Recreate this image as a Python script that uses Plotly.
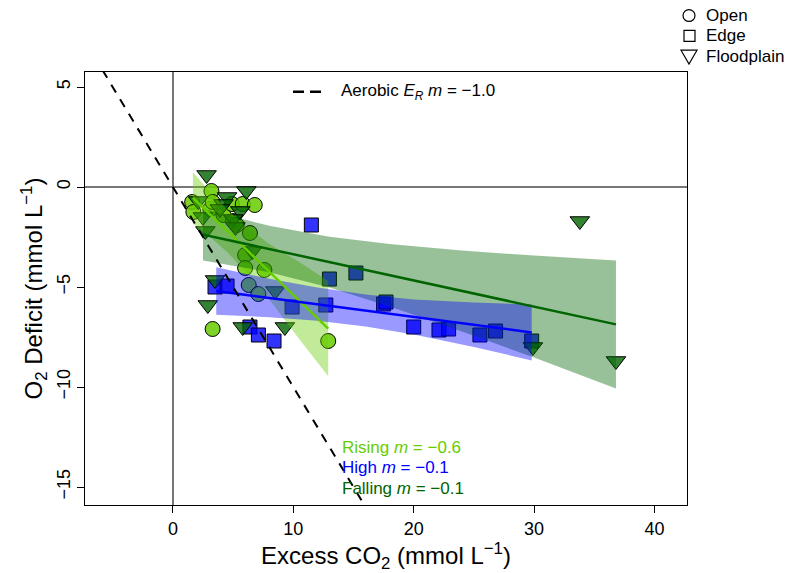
import plotly.graph_objects as go

# ---------------- data ----------------
open_x = [1.6, 1.7, 3.1, 3.2, 3.3, 4.2, 4.9, 5.8, 5.0, 5.3, 6.4, 6.8, 6.0, 6.0, 7.6, 6.3, 7.1, 3.3, 12.9]
open_y = [-0.75, -1.25, -1.1, -0.2, -0.75, -1.4, -0.85, -0.85, -1.7, -1.9, -2.3, -0.9, -3.4, -4.05, -4.15, -4.9, -5.35, -7.1, -7.7]

edge_x = [3.5, 4.5, 6.4, 7.1, 8.4, 9.9, 11.5, 12.7, 13.0, 15.2, 17.5, 17.7, 20.0, 22.1, 22.9, 25.5, 26.8, 29.8]
edge_y = [-5.0, -4.95, -7.0, -7.4, -7.7, -6.0, -1.9, -5.9, -4.6, -4.3, -5.85, -5.75, -7.0, -7.15, -7.1, -7.4, -7.2, -7.7]

flood_x = [2.8, 6.1, 4.5, 2.1, 4.2, 3.9, 5.6, 2.5, 5.0, 2.7, 5.2, 6.6, 3.5, 2.9, 5.8, 9.3, 8.5, 33.8, 29.9, 36.8]
flood_y = [0.6, -0.2, -0.5, -0.7, -0.85, -1.1, -1.2, -1.5, -1.6, -2.2, -2.0, -3.2, -4.65, -5.9, -7.0, -7.0, -5.2, -1.7, -8.0, -8.7]

# fitted lines and confidence bands
rise_x = [1.66, 3.0, 4.5, 6.0, 8.0, 10.5, 12.9]
rise_fit = [-0.54, -1.32, -2.19, -3.07, -4.23, -5.68, -7.08]
rise_up = [0.74, -0.19, -1.13, -1.94, -2.85, -3.75, -4.70]
rise_lo = [-1.82, -2.45, -3.25, -4.20, -5.61, -7.61, -9.46]

high_x = [3.6, 8.0, 12.0, 16.0, 20.0, 25.0, 29.8]
high_fit = [-5.20, -5.55, -5.86, -6.18, -6.50, -6.89, -7.27]
high_up = [-4.01, -4.59, -5.03, -5.38, -5.62, -5.78, -5.87]
high_lo = [-6.39, -6.51, -6.69, -6.98, -7.38, -8.00, -8.67]

fall_x = [2.5, 8.0, 13.0, 18.0, 24.0, 30.0, 36.8]
fall_fit = [-2.38, -3.10, -3.76, -4.41, -5.20, -5.98, -6.87]
fall_up = [-1.09, -1.94, -2.49, -2.85, -3.18, -3.43, -3.67]
fall_lo = [-3.67, -4.26, -5.03, -5.97, -7.22, -8.53, -10.07]

aerobic_slope = -1.0
aerobic_label = "Aerobic <i>E<sub>R</sub></i> <i>m</i> = \u22121.0"
slope_labels = ["Rising <i>m</i> = \u22120.6", "High <i>m</i> = \u22120.1", "Falling <i>m</i> = \u22120.1"]
site_labels = ["Open", "Edge", "Floodplain"]

x_range = [-7.3, 42.7]
y_range = [-15.9, 5.75]
x_ticks = [0, 10, 20, 30, 40]
y_ticks = [-15, -10, -5, 0, 5]

# ---------------- styles / layout ----------------
C_RISE = "#66CD00"
C_HIGH = "#0000FF"
C_FALL = "#006400"
FONT = "Liberation Sans, Arial, Helvetica, sans-serif"
W, H = 790, 573
ML, MR, MT, MB = 85, 103, 72, 64
PW, PH = W - ML - MR, H - MT - MB


def px(xp):
    return (xp - ML) / PW


def py(yp):
    return (H - MB - yp) / PH


fig = go.Figure()

# points
fig.add_trace(go.Scatter(x=open_x, y=open_y, mode="markers", showlegend=False,
                         marker=dict(symbol="circle", size=15, color="rgba(102,205,0,0.85)",
                                     line=dict(color="black", width=1))))
fig.add_trace(go.Scatter(x=edge_x, y=edge_y, mode="markers", showlegend=False,
                         marker=dict(symbol="square", size=14, color="rgba(0,0,255,0.8)",
                                     line=dict(color="black", width=1))))
fig.add_trace(go.Scatter(x=flood_x, y=flood_y, mode="markers", showlegend=False,
                         marker=dict(symbol="triangle-down", size=17, color="rgba(0,100,0,0.8)",
                                     line=dict(color="black", width=1))))


def ribbon(xs, up, lo, rgba):
    fig.add_trace(go.Scatter(x=list(xs) + list(xs)[::-1], y=list(up) + list(lo)[::-1],
                             fill="toself", fillcolor=rgba, mode="lines",
                             line=dict(width=0), showlegend=False, hoverinfo="skip"))


ribbon(rise_x, rise_up, rise_lo, "rgba(102,205,0,0.4)")
ribbon(fall_x, fall_up, fall_lo, "rgba(0,100,0,0.4)")
ribbon(high_x, high_up, high_lo, "rgba(0,0,255,0.4)")

for xs, ys, c in [(rise_x, rise_fit, C_RISE), (high_x, high_fit, C_HIGH), (fall_x, fall_fit, C_FALL)]:
    fig.add_trace(go.Scatter(x=[xs[0], xs[-1]], y=[ys[0], ys[-1]], mode="lines",
                             line=dict(color=c, width=2.5), showlegend=False))

# aerobic 1:1 line
ax = [x_range[0], y_range[0] / aerobic_slope]
fig.add_trace(go.Scatter(x=ax, y=[aerobic_slope * v for v in ax], mode="lines",
                         line=dict(color="black", width=2, dash="9px,8px"), showlegend=False))

# in-plot key for the aerobic line (drawn manually)
fig.add_shape(type="line", xref="paper", yref="paper", x0=px(293), x1=px(322),
              y0=py(92), y1=py(92), line=dict(color="black", width=2.5, dash="11px,6px"))
fig.add_annotation(xref="paper", yref="paper", x=px(339), y=py(92), text=aerobic_label,
                   showarrow=False, xanchor="left", yanchor="middle",
                   font=dict(size=17, family=FONT, color="black"))

# site key (outside top-right, drawn manually so it does not squeeze the plot)
fig.add_shape(type="circle", xref="paper", yref="paper", x0=px(683), x1=px(695),
              y0=py(21), y1=py(9), line=dict(color="black", width=1.2))
fig.add_shape(type="rect", xref="paper", yref="paper", x0=px(684), x1=px(695),
              y0=py(41), y1=py(30), line=dict(color="black", width=1.2))
fig.add_shape(type="path", xref="paper", yref="paper",
              path=f"M {px(681)} {py(50)} L {px(697)} {py(50)} L {px(689)} {py(64)} Z",
              line=dict(color="black", width=1.2))
for i, lab in enumerate(site_labels):
    fig.add_annotation(xref="paper", yref="paper", x=px(704), y=py(15 + 20.5 * i), text=lab,
                       showarrow=False, xanchor="left", yanchor="middle",
                       font=dict(size=17, family=FONT, color="black"))

# slope annotations
for i, (txt, c) in enumerate(zip(slope_labels, [C_RISE, C_HIGH, C_FALL])):
    fig.add_annotation(x=13.85, y=-13.0 - 1.04 * i, text=txt, showarrow=False,
                       xanchor="left", yanchor="middle",
                       font=dict(color=c, size=17, family=FONT))

axis_common = dict(showline=True, linecolor="black", linewidth=1, mirror=True,
                   ticks="outside", ticklen=7, tickcolor="black", showgrid=False,
                   zeroline=True, zerolinecolor="#777777", zerolinewidth=2,
                   tickfont=dict(size=18, color="black", family=FONT))

fig.update_layout(
    width=W, height=H,
    margin=dict(l=ML, r=MR, t=MT, b=MB),
    paper_bgcolor="white", plot_bgcolor="white",
    font=dict(family=FONT, color="black"),
    showlegend=False,
    xaxis=dict(range=x_range, tickvals=x_ticks,
               title=dict(text="Excess CO<sub>2</sub> (mmol L<sup>\u22121</sup>)",
                          font=dict(size=24), standoff=6),
               **axis_common),
    yaxis=dict(range=y_range, tickvals=y_ticks, tickangle=-90,
               title=dict(text="O<sub>2</sub> Deficit (mmol L<sup>\u22121</sup>)",
                          font=dict(size=24), standoff=4),
               **axis_common),
)

fig.write_html("out.html")
